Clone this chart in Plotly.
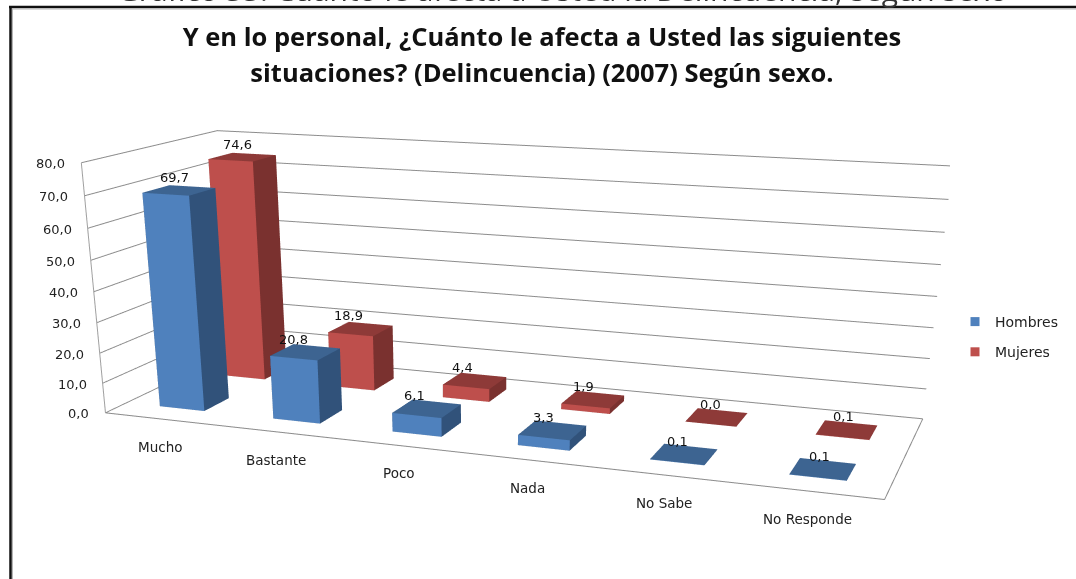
import plotly.graph_objects as go

categories = ["Mucho", "Bastante", "Poco", "Nada", "No Sabe", "No Responde"]
hombres = [69.7, 20.8, 6.1, 3.3, 0.1, 0.1]
mujeres = [74.6, 18.9, 4.4, 1.9, 0.0, 0.1]
y_ticks = [0, 10, 20, 30, 40, 50, 60, 70, 80]
y_labels = ["0,0", "10,0", "20,0", "30,0", "40,0", "50,0", "60,0", "70,0", "80,0"]
series_names = ["Hombres", "Mujeres"]
label_dx = [-5, -12, -12, -9, -6, -3]

# View: a camera fitted to the reference's perspective (plotly's field of view is fixed,
# so the figure is taller than the window, which crops it).
W = 1076
H2 = 1381
CX = 475
EYE = dict(x=1.7722, y=-5.0759, z=1.1234)
CENTER = dict(x=0.2506, y=-1.0149, z=-0.9156)
ASPECT = dict(x=2.5545, y=0.8806, z=0.8)
BAR_HALF_X = 0.1988
BAR_HALF_Y = 0.1950

fx_ = lambda v: v / W
fy_ = lambda v: 1 - v / H2

FRONT = ["#4F81BD", "#BE4F4C"]
SIDE = ["#31527A", "#7A312F"]
TOP = ["#3D6491", "#8E3A38"]


def box(x0, x1, y0, y1, z1, s):
    xs = [x0, x1, x1, x0, x0, x1, x1, x0]
    ys = [y0, y0, y1, y1, y0, y0, y1, y1]
    zs = [0, 0, 0, 0, z1, z1, z1, z1]
    i = [0, 0, 4, 4, 0, 0, 1, 1, 2, 2, 3, 3]
    j = [1, 2, 5, 6, 1, 5, 2, 6, 3, 7, 0, 4]
    k = [2, 3, 6, 7, 5, 4, 6, 5, 7, 6, 4, 7]
    fc = [SIDE[s]] * 2 + [TOP[s]] * 2 + [FRONT[s]] * 2 + [SIDE[s]] * 6
    return go.Mesh3d(x=xs, y=ys, z=zs, i=i, j=j, k=k, facecolor=fc, flatshading=True, showlegend=False,
                     name=series_names[s], hoverinfo="skip",
                     lighting=dict(ambient=1, diffuse=0, specular=0, fresnel=0, roughness=1))


fig = go.Figure()
labels3d = []
for s, vals in enumerate([hombres, mujeres]):
    for col, v in enumerate(vals):
        fig.add_trace(box(col + .5 - BAR_HALF_X, col + .5 + BAR_HALF_X, s + .5 - BAR_HALF_Y, s + .5 + BAR_HALF_Y, v, s))
        labels3d.append(dict(x=col + .5, y=s + .5, z=v, text=f"{v:.1f}".replace(".", ","), showarrow=False,
                             xshift=label_dx[col], yshift=13,
                             font=dict(family="DejaVu Sans", size=13, color="#111111")))
for col, name in enumerate(categories):
    labels3d.append(dict(x=col + .5, y=0, z=0, text=name, showarrow=False, xshift=-2, yshift=-27.5,
                         font=dict(family="DejaVu Sans", size=13.5, color="#222222")))
for v, t in zip(y_ticks, y_labels):
    labels3d.append(dict(x=0, y=0, z=v, text=t, showarrow=False, xanchor="right", xshift=-14, yshift=-1,
                         font=dict(family="DejaVu Sans", size=13, color="#222222")))

x_end = len(categories)
y_end = len(series_names)
z_end = y_ticks[-1]
fig.add_trace(go.Scatter3d(x=[0, x_end, x_end], y=[0, 0, y_end], z=[0, 0, 0], mode="lines",
                           line=dict(color="#8C8C8C", width=2), showlegend=False, hoverinfo="skip"))
fig.add_trace(go.Scatter3d(x=[0, 0], y=[0, 0], z=[0, z_end], mode="lines",
                           line=dict(color="#A0A0A0", width=2), showlegend=False, hoverinfo="skip"))
for s, name in enumerate(series_names):
    fig.add_trace(go.Scatter(x=[None], y=[None], mode="markers", name=name, legendgroup=name,
                             marker=dict(symbol="square", size=9, color=FRONT[s])))

ax3 = dict(showbackground=False, zeroline=False, showspikes=False, title="", showline=False,
           showticklabels=False, ticks="")
paper_line = dict(type="line", xref="paper", yref="paper")
fig.update_layout(
    width=W, height=H2, paper_bgcolor="white", plot_bgcolor="rgba(0,0,0,0)", margin=dict(l=0, r=0, t=0, b=0),
    xaxis=dict(visible=False), yaxis=dict(visible=False),
    title=dict(text='<span style="font-size:25.5px">Y en lo personal, ¿Cuánto le afecta a Usted las siguientes</span><br>'
                    '<span style="font-size:25.5px">situaciones? (Delincuencia) (2007) Según sexo.</span>',
               x=fx_(542), xanchor="center", y=fy_(46), yanchor="top",
               font=dict(family="Open Sans", size=27.7, color="#111111", weight="bold")),
    legend=dict(x=fx_(955), y=fy_(337), yanchor="middle", xanchor="left", traceorder="grouped", tracegroupgap=9,
                font=dict(family="DejaVu Sans", size=14, color="#222222"), bgcolor="rgba(0,0,0,0)"),
    annotations=[dict(text="Gráfico 33: Cuánto le afecta a Usted la Delincuencia, según sexo",
                      x=fx_(562), y=fy_(12), xref="paper", yref="paper", xanchor="center", yanchor="bottom",
                      showarrow=False, font=dict(family="Open Sans", size=30, color="#333333"))],
    shapes=[dict(paper_line, x0=fx_(10.5), x1=fx_(10.5), y0=fy_(6), y1=fy_(579), line=dict(color="#111111", width=2.5)),
            dict(paper_line, x0=fx_(9), x1=fx_(W), y0=fy_(7), y1=fy_(7), line=dict(color="#111111", width=2.5)),
            dict(paper_line, x0=fx_(12.5), x1=fx_(12.5), y0=fy_(8), y1=fy_(579), line=dict(color="#B5B5B5", width=1)),
            dict(paper_line, x0=fx_(12), x1=fx_(W), y0=fy_(9), y1=fy_(9), line=dict(color="#B5B5B5", width=1))],
    scene=dict(domain=dict(x=[0, 2 * CX / W], y=[0, 1]), aspectmode="manual", aspectratio=ASPECT,
               camera=dict(eye=EYE, center=CENTER, up=dict(x=0, y=0, z=1)),
               xaxis=dict(ax3, range=[0, x_end], showgrid=False),
               yaxis=dict(ax3, range=[0, y_end], showgrid=False),
               zaxis=dict(ax3, range=[0, z_end], tickvals=y_ticks, showgrid=True, gridcolor="#8C8C8C"),
               annotations=labels3d),
)
fig.write_html("out.html", config=dict(displayModeBar=False),
               post_script="document.body.style.margin='0';document.body.style.overflow='hidden';document.documentElement.style.overflow='hidden';")
